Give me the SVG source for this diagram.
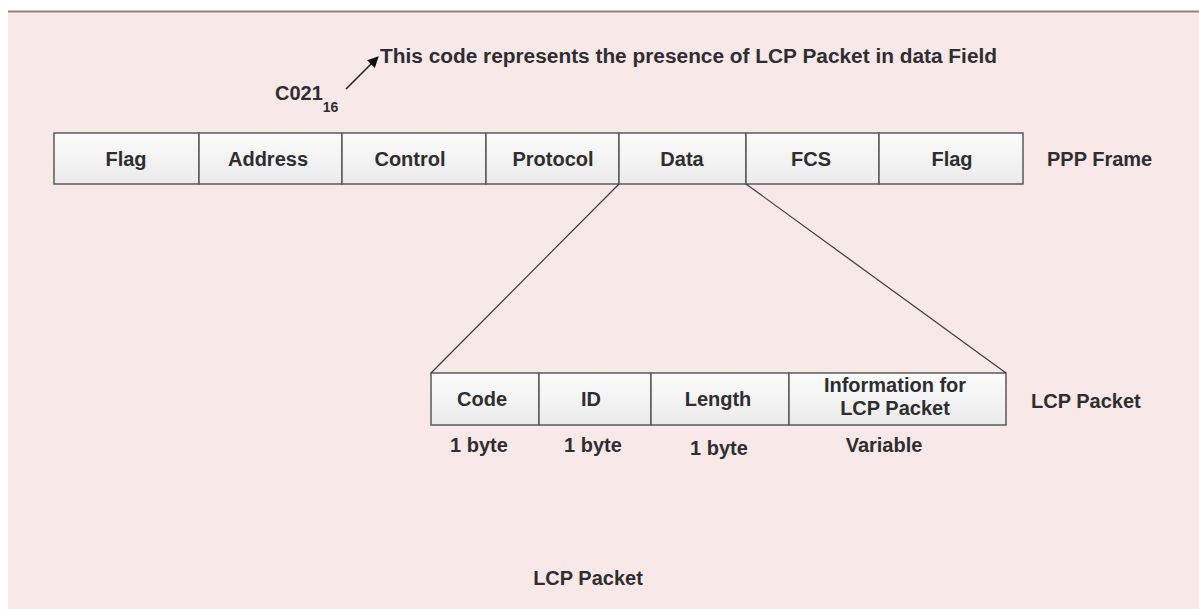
<svg xmlns="http://www.w3.org/2000/svg" width="1199" height="609" viewBox="0 0 1199 609">
<style>
text{font-family:"Liberation Sans",Arial,sans-serif;font-weight:bold;fill:#2e2e30;font-size:20px}
.c{text-anchor:middle}
.box{fill:url(#g);stroke:#5a5a5a;stroke-width:1.5}
.con{stroke:#3a3a3a;stroke-width:1.2;fill:none}
</style>
<defs>
<linearGradient id="g" x1="0" y1="0" x2="0" y2="1">
<stop offset="0" stop-color="#fbfbfb"/>
<stop offset="1" stop-color="#ebebeb"/>
</linearGradient>
<marker id="ah" markerWidth="11" markerHeight="11" refX="10" refY="5.5" orient="auto" markerUnits="userSpaceOnUse">
<path d="M0,0 L11,5.5 L0,11 Z" fill="#111"/>
</marker>
</defs>
<rect x="0" y="0" width="1199" height="609" fill="#ffffff"/>
<rect x="8" y="12" width="1191" height="597" fill="#f9e8e8"/>
<line x1="8" y1="11.5" x2="1199" y2="11.5" stroke="#9b7f7c" stroke-width="2"/>

<g id="annotation">
<text x="380" y="63" textLength="617" lengthAdjust="spacingAndGlyphs">This code represents the presence of LCP Packet in data Field</text>
<text x="275" y="100" font-size="18">C021<tspan font-size="14" dy="12">16</tspan></text>
</g>

<g id="ppp-frame">
<rect class="box" x="54" y="133" width="145" height="51"/>
<rect class="box" x="199" y="133" width="143" height="51"/>
<rect class="box" x="342" y="133" width="144" height="51"/>
<rect class="box" x="486" y="133" width="133" height="51"/>
<rect class="box" x="619" y="133" width="127" height="51"/>
<rect class="box" x="746" y="133" width="133" height="51"/>
<rect class="box" x="879" y="133" width="144" height="51"/>
<text class="c" x="126" y="166">Flag</text>
<text class="c" x="268" y="166">Address</text>
<text class="c" x="410" y="166">Control</text>
<text class="c" x="553" y="166">Protocol</text>
<text class="c" x="682" y="166">Data</text>
<text class="c" x="811" y="166">FCS</text>
<text class="c" x="952" y="166">Flag</text>
<text x="1047" y="166">PPP Frame</text>
</g>

<g id="lcp-packet">
<rect class="box" x="431" y="373" width="108" height="52"/>
<rect class="box" x="539" y="373" width="112" height="52"/>
<rect class="box" x="651" y="373" width="138" height="52"/>
<rect class="box" x="789" y="373" width="217" height="52"/>
<text class="c" x="482" y="406">Code</text>
<text class="c" x="591" y="406">ID</text>
<text class="c" x="718" y="406">Length</text>
<text class="c" x="895" y="392">Information for</text>
<text class="c" x="895" y="415">LCP Packet</text>
<text x="1031" y="408">LCP Packet</text>
<text class="c" x="479" y="452">1 byte</text>
<text class="c" x="593" y="452">1 byte</text>
<text class="c" x="719" y="455">1 byte</text>
<text class="c" x="884" y="452">Variable</text>
</g>

<g id="caption">
<text class="c" x="588" y="585">LCP Packet</text>
</g>

<g id="connectors">
<line class="con" x1="619" y1="184" x2="431" y2="373"/>
<line class="con" x1="746" y1="184" x2="1006" y2="373"/>
<line x1="346" y1="89" x2="378" y2="57" stroke="#222" stroke-width="1.6" marker-end="url(#ah)"/>
</g>
</svg>
